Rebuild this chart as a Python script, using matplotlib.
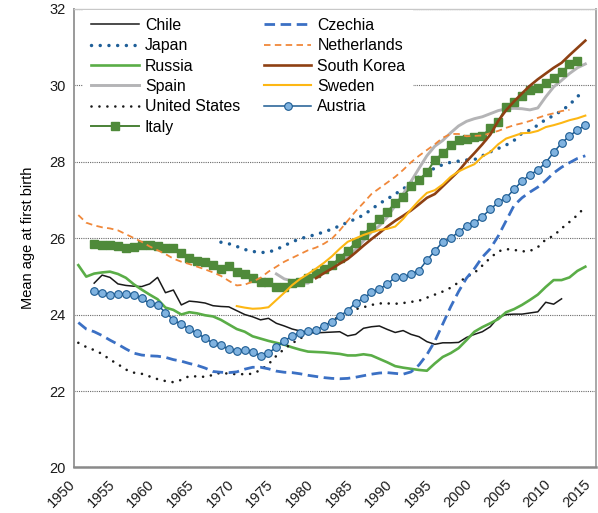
import matplotlib.pyplot as plt

plt.rcParams['font.family'] = ['Liberation Sans', 'DejaVu Sans']

# mean age at first birth (first year + yearly values)
chile_start = 1952
chile = [24.82, 25.03, 24.97, 24.80, 24.76, 24.74, 24.73, 24.80, 24.97, 24.57,
         24.64, 24.25, 24.35, 24.33, 24.30, 24.23, 24.21, 24.20, 24.10, 24.00,
         23.94, 23.86, 23.90, 23.77, 23.70, 23.62, 23.57, 23.53, 23.52, 23.53,
         23.54, 23.55, 23.44, 23.48, 23.64, 23.68, 23.70, 23.61, 23.53, 23.58,
         23.48, 23.42, 23.29, 23.22, 23.26, 23.26, 23.27, 23.40, 23.48, 23.55,
         23.68, 23.92, 24.00, 24.01, 24.01, 24.04, 24.07, 24.32, 24.27, 24.41]

czechia_start = 1950
czechia = [23.79, 23.62, 23.55, 23.45, 23.33, 23.22, 23.10, 22.99, 22.94, 22.92,
           22.91, 22.88, 22.82, 22.78, 22.72, 22.67, 22.60, 22.51, 22.49, 22.48,
           22.50, 22.57, 22.62, 22.62, 22.58, 22.52, 22.49, 22.48, 22.45, 22.41,
           22.38, 22.35, 22.33, 22.32, 22.33, 22.36, 22.40, 22.44, 22.47, 22.48,
           22.46, 22.44, 22.50, 22.68, 22.95, 23.30, 23.75, 24.20, 24.60, 24.95,
           25.20, 25.50, 25.72, 26.05, 26.45, 26.85, 27.05, 27.20, 27.33, 27.50,
           27.70, 27.85, 27.97, 28.08, 28.15]

japan_start = 1968
japan = [25.89, 25.85, 25.78, 25.70, 25.65, 25.62, 25.63, 25.70, 25.80, 25.90,
         25.98, 26.04, 26.09, 26.16, 26.23, 26.32, 26.41, 26.50, 26.60, 26.75,
         26.90, 27.02, 27.15, 27.28, 27.45, 27.60, 27.75, 27.82, 27.92, 27.98,
         28.01, 28.04, 28.05, 28.15, 28.25, 28.34, 28.43, 28.55, 28.74, 28.82,
         28.95, 29.10, 29.20, 29.33, 29.48, 29.70, 29.85]

netherlands_start = 1950
netherlands = [26.60, 26.40, 26.33, 26.28, 26.25, 26.20, 26.10, 26.00, 25.90, 25.78,
               25.68, 25.58, 25.46, 25.38, 25.32, 25.25, 25.18, 25.10, 25.01, 24.88,
               24.76, 24.78, 24.86, 24.96, 25.12, 25.25, 25.38, 25.48, 25.58, 25.68,
               25.75, 25.85, 25.98, 26.20, 26.45, 26.70, 26.92, 27.15, 27.30, 27.45,
               27.60, 27.78, 27.98, 28.15, 28.30, 28.45, 28.62, 28.72, 28.72, 28.66,
               28.67, 28.68, 28.74, 28.80, 28.88, 28.95, 29.00, 29.06, 29.14, 29.21,
               29.26, 29.32, 29.35]

russia_start = 1950
russia = [25.29, 24.99, 25.07, 25.10, 25.12, 25.06, 24.96, 24.79, 24.65, 24.52,
          24.40, 24.18, 24.12, 24.00, 24.06, 24.03, 23.98, 23.95, 23.86, 23.74,
          23.62, 23.55, 23.43, 23.37, 23.31, 23.26, 23.21, 23.14, 23.08, 23.03,
          23.02, 23.01, 22.99, 22.97, 22.93, 22.93, 22.96, 22.93, 22.84, 22.75,
          22.65, 22.61, 22.58, 22.55, 22.53, 22.72, 22.89, 22.99, 23.12, 23.33,
          23.55, 23.67, 23.77, 23.88, 24.06, 24.14, 24.25, 24.38, 24.52, 24.72,
          24.90, 24.90, 24.97, 25.14, 25.25]

korea_start = 1980
korea = [24.95, 25.08, 25.20, 25.33, 25.45, 25.62, 25.80, 25.97, 26.13, 26.30,
         26.45, 26.58, 26.72, 26.88, 27.05, 27.15, 27.35, 27.55, 27.75, 28.00,
         28.22, 28.45, 28.70, 29.06, 29.34, 29.57, 29.78, 29.98, 30.15, 30.30,
         30.45, 30.58, 30.78, 30.97, 31.16]

spain_start = 1975
spain = [25.06, 24.93, 24.88, 24.83, 24.82, 25.05, 25.19, 25.30, 25.40, 25.53,
         25.70, 25.93, 26.15, 26.32, 26.55, 26.85, 27.15, 27.48, 27.82, 28.15,
         28.40, 28.55, 28.75, 28.93, 29.05, 29.12, 29.17, 29.25, 29.33, 29.38,
         29.39, 29.38, 29.35, 29.40, 29.69, 29.95, 30.12, 30.30, 30.45, 30.55]

sweden_start = 1970
sweden = [24.22, 24.18, 24.15, 24.16, 24.19, 24.38, 24.57, 24.77, 24.93, 25.06,
          25.20, 25.35, 25.52, 25.72, 25.90, 25.99, 26.08, 26.15, 26.21, 26.24,
          26.30, 26.50, 26.75, 26.98, 27.18, 27.25, 27.40, 27.60, 27.74, 27.84,
          27.93, 28.13, 28.25, 28.45, 28.60, 28.67, 28.74, 28.75, 28.80, 28.90,
          28.95, 29.01, 29.08, 29.13, 29.20]

usa_start = 1950
usa = [23.26, 23.15, 23.07, 22.97, 22.82, 22.70, 22.56, 22.48, 22.45, 22.38,
       22.31, 22.26, 22.23, 22.29, 22.39, 22.38, 22.37, 22.42, 22.48, 22.45,
       22.44, 22.44, 22.45, 22.55, 22.70, 22.92, 23.10, 23.25, 23.37, 23.50,
       23.60, 23.72, 23.83, 23.96, 24.07, 24.14, 24.19, 24.25, 24.29, 24.29,
       24.28, 24.30, 24.33, 24.36, 24.44, 24.52, 24.60, 24.70, 24.84, 24.98,
       25.09, 25.28, 25.48, 25.65, 25.71, 25.69, 25.65, 25.66, 25.76, 25.96,
       26.06, 26.25, 26.42, 26.60, 26.82]

austria_start = 1952
austria = [24.62, 24.57, 24.52, 24.53, 24.54, 24.52, 24.42, 24.29, 24.25, 24.05,
           23.86, 23.74, 23.62, 23.51, 23.38, 23.25, 23.19, 23.09, 23.05, 23.06,
           23.03, 22.92, 23.00, 23.14, 23.31, 23.44, 23.52, 23.56, 23.59, 23.71,
           23.80, 23.96, 24.10, 24.31, 24.42, 24.58, 24.66, 24.80, 24.97, 24.97,
           25.05, 25.15, 25.42, 25.66, 25.90, 25.99, 26.16, 26.31, 26.38, 26.56,
           26.75, 26.93, 27.05, 27.27, 27.49, 27.65, 27.78, 27.97, 28.24, 28.48,
           28.67, 28.82, 28.95]

italy_start = 1952
italy = [25.84, 25.82, 25.81, 25.79, 25.75, 25.77, 25.82, 25.82, 25.80, 25.73,
         25.74, 25.62, 25.47, 25.39, 25.37, 25.29, 25.20, 25.26, 25.11, 25.07,
         24.96, 24.86, 24.86, 24.73, 24.73, 24.82, 24.86, 24.95, 25.08, 25.18,
         25.29, 25.48, 25.67, 25.88, 26.09, 26.30, 26.49, 26.69, 26.91, 27.08,
         27.35, 27.52, 27.72, 28.04, 28.21, 28.42, 28.56, 28.59, 28.63, 28.67,
         28.87, 29.04, 29.43, 29.56, 29.72, 29.87, 29.93, 30.04, 30.19, 30.33,
         30.54, 30.64]

x_ticks = list(range(1950, 2016, 5))
y_ticks = [20, 22, 24, 26, 28, 30, 32]


def yrs(start, vals):
    return list(range(start, start + len(vals)))


fig = plt.figure(figsize=(5.98, 5.13), dpi=100)
ax = fig.add_axes([0.1237, 0.0887, 0.8730, 0.8947])

ax.plot(yrs(chile_start, chile), chile, color='#1a1a1a', lw=1.1, label='Chile')
ax.plot(yrs(japan_start, japan), japan, color='#1f5f98', lw=2.5,
        ls=(0, (0.01, 2.5)), dash_capstyle='round', label='Japan')
ax.plot(yrs(russia_start, russia), russia, color='#5aad47', lw=1.9, label='Russia')
ax.plot(yrs(spain_start, spain), spain, color='#b4b4b6', lw=2.1, label='Spain')
ax.plot(yrs(usa_start, usa), usa, color='#1a1a1a', lw=1.9,
        ls=(0, (0.01, 3.0)), dash_capstyle='round', label='United States')
ax.plot(yrs(italy_start, italy), italy, color='#4a8136', lw=1.4,
        marker='s', ms=6.2, mfc='#4f8a3a', mec='#4f8a3a', label='Italy')
ax.plot(yrs(czechia_start, czechia), czechia, color='#3b70c4', lw=2.0,
        ls=(0, (3.8, 2.0)), label='Czechia')
ax.plot(yrs(netherlands_start, netherlands), netherlands, color='#f0883a', lw=1.3,
        ls=(0, (3.6, 2.4)), label='Netherlands')
ax.plot(yrs(korea_start, korea), korea, color='#8e4013', lw=1.9, label='South Korea')
ax.plot(yrs(sweden_start, sweden), sweden, color='#fdb714', lw=1.5, label='Sweden')
ax.plot(yrs(austria_start, austria), austria, color='#1c5b92', lw=1.1,
        marker='o', ms=5.5, mfc='#80b3e0', mec='#1c5b92', mew=0.8, label='Austria')

ax.set_xlim(1949.45, 2015.35)
ax.set_ylim(20, 32)
ax.set_xticks(x_ticks)
ax.set_yticks(y_ticks)
ax.set_xticklabels([str(t) for t in x_ticks], rotation=45, ha='right')
ax.tick_params(axis='both', length=0, labelsize=10.5, colors='#1a1a1a')
ax.tick_params(axis='y', pad=6)
ax.tick_params(axis='x', pad=7)

ax.set_axisbelow(True)
ax.yaxis.grid(True, ls=(0, (1, 1)), color='#6a6a6a', lw=0.8)

ax.spines['left'].set_color('#9a9a9a')
ax.spines['left'].set_linewidth(1.4)
ax.spines['bottom'].set_color('#8a8a8a')
ax.spines['bottom'].set_linewidth(1.8)
ax.spines['top'].set_color('#c8c8c8')
ax.spines['top'].set_linewidth(1.0)
ax.spines['right'].set_color('#a8a8a8')
ax.spines['right'].set_linewidth(1.4)

ax.set_ylabel('Mean age at first birth', fontsize=10.5, labelpad=10)

leg = ax.legend(loc='upper left', bbox_to_anchor=(0.018, 0.997), ncol=2,
                fontsize=11.4, frameon=True, fancybox=False, framealpha=1,
                edgecolor='none', handlelength=3.0, handletextpad=0.38,
                columnspacing=1.5, labelspacing=0.34, borderaxespad=0.0,
                borderpad=0.5, numpoints=1)

fig.savefig('out.png', dpi=100)
